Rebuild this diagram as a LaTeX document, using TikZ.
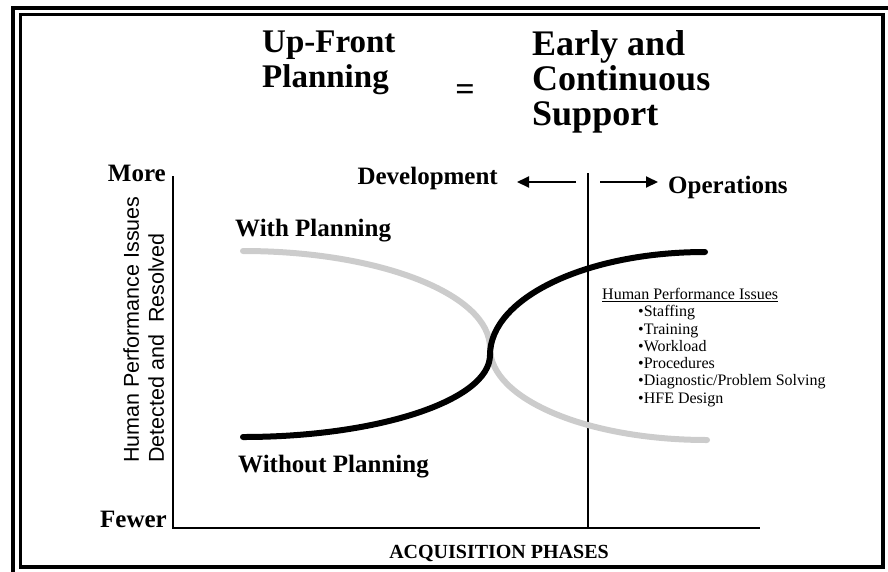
\documentclass[tikz,border=0pt]{standalone}
\usepackage{fontspec}
\setmainfont{Liberation Serif}
\setsansfont{Liberation Sans}
\usetikzlibrary{arrows.meta}
\begin{document}
\begin{tikzpicture}[x=1pt,y=-1pt,
  ttl/.style={font=\fontsize{33}{35}\selectfont\bfseries, align=left, inner sep=0pt, anchor=north west},
  ttlb/.style={font=\fontsize{36}{35}\selectfont\bfseries, align=left, inner sep=0pt, anchor=north west},
  lbl/.style={font=\fontsize{25}{27}\selectfont\bfseries, inner sep=0pt},
  axis/.style={line width=2pt},
  dirarrow/.style={line width=2pt, -{Triangle[length=12pt,width=11pt]}},
  withcurve/.style={line width=6pt, line cap=round, draw={rgb,255:red,204;green,204;blue,204}},
  withoutcurve/.style={line width=6pt, line cap=round, draw=black},
  issues/.style={font=\fontsize{16}{17.3}\selectfont, align=left, inner sep=0pt, anchor=north west},
  ylbl/.style={font=\sffamily\fontsize{21.5}{25}\selectfont, align=left, inner sep=0pt, rotate=90, anchor=north west}]
\useasboundingbox (0,0) rectangle (888,571);
% frame
\begin{scope}
\clip (0,0) rectangle (888,571);
\draw[line width=4pt] (13,600) -- (13,8) -- (900,8);
\draw[line width=3.5pt] (20.5,14.5) rectangle (883,567);
\end{scope}
% titles
\node[ttl] (t1) at (262,31) {Up-Front\\Planning};
\node[font=\fontsize{34}{30}\selectfont\bfseries, inner sep=0pt, anchor=base] (eq) at (465,100) {=};
\node[ttlb] (t2) at (532,30) {Early and\\Continuous\\Support};
% axes
\coordinate (ytop) at (173,176);
\coordinate (orig) at (173,528);
\coordinate (xend) at (760,528);
\draw[axis] (ytop) -- (orig) -- (xend);
\node[lbl, anchor=base east] (more) at (166,181) {More};
\node[lbl, anchor=base east] (fewer) at (167,527) {Fewer};
\node[ylbl] (ylab) at (123,463) {Human Performance Issues\\Detected and\ \ Resolved};
\node[font=\fontsize{20}{22}\selectfont\bfseries, inner sep=0pt, anchor=base] (xlab) at (499,558) {ACQUISITION PHASES};
% divider
\coordinate (dtop) at (588,173);
\coordinate (dbot) at (588,528);
\draw[line width=2.5pt] (dtop) -- (dbot);
\coordinate (la0) at (576,182);
\coordinate (la1) at (517,182);
\coordinate (ra0) at (600,182);
\coordinate (ra1) at (658,182);
\draw[dirarrow] (la0) -- (la1);
\draw[dirarrow] (ra0) -- (ra1);
\node[lbl, anchor=base east] (dev) at (498,184) {Development};
\node[lbl, anchor=base west] (ops) at (668,193) {Operations};
% curves
\draw[withcurve] (243,251) .. controls (379,251) and (490,294) .. (490,348) .. controls (490,399) and (587,440) .. (707,440);
\draw[withoutcurve] (243,437) .. controls (379,437) and (490,400) .. (490,355) .. controls (490,298) and (586,252) .. (705,252);
\node[lbl, anchor=base west] (wp) at (235,236) {With Planning};
\node[lbl, anchor=base west] (wop) at (238,472) {Without Planning};
% issues list
\node[issues] (hpi) at (602,288) {\underline{Human Performance Issues}\\
\hspace*{36pt}•Staffing\\
\hspace*{36pt}•Training\\
\hspace*{36pt}•Workload\\
\hspace*{36pt}•Procedures\\
\hspace*{36pt}•Diagnostic/Problem Solving\\
\hspace*{36pt}•HFE Design};
\end{tikzpicture}
\end{document}
